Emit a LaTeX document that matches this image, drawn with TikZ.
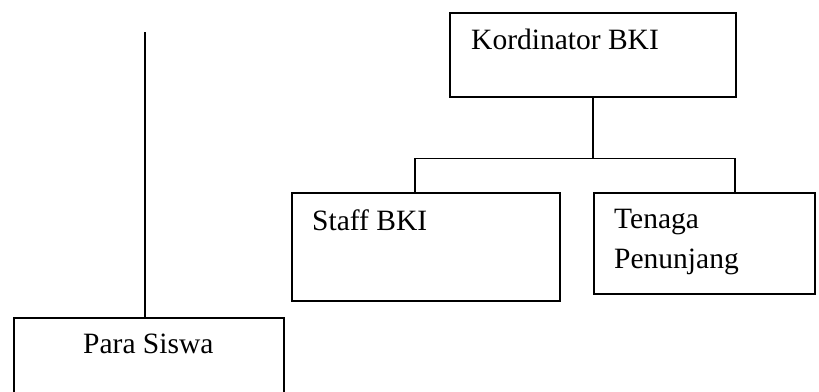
\documentclass[tikz,border=0pt]{standalone}
\usepackage{fontspec}
\setmainfont{Liberation Serif}
\usetikzlibrary{calc}
\tikzset{
  box/.style={draw=black, line width=1.5pt, rectangle, inner sep=0pt, anchor=north west},
  lbl/.style={anchor=base west, inner sep=0pt, font=\fontsize{29.5}{40}\selectfont},
  conn/.style={draw=black, line width=1.5pt}
}
\begin{document}
\begin{tikzpicture}[x=1pt,y=-1pt]
\useasboundingbox (0,0) rectangle (819,391);
% boxes
\node[box, minimum width=286pt, minimum height=84pt] (K) at (449,12) {};
\node[box, minimum width=268pt, minimum height=108pt] (S) at (291,192) {};
\node[box, minimum width=221pt, minimum height=101pt] (T) at (593,192) {};
\node[box, minimum width=270pt, minimum height=90pt] (P) at (13,317) {};
% labels
\node[lbl] (Kt) at (471,49) {Kordinator BKI};
\node[lbl] (St) at (312,230) {Staff BKI};
\node[lbl] (Tt1) at (614,228) {Tenaga};
\node[lbl] (Tt2) at (614,268) {Penunjang};
\node[lbl] (Pt) at (83,353) {Para Siswa};
% connectors
\coordinate (j) at ($(K.south)+(0,61)$);
\coordinate (sx) at ($(S.north west)+(124,0)$);
\coordinate (tx) at ($(T.north west)+(142,0)$);
\coordinate (ptop) at (145,32);
\draw[conn] (K.south) -- (j);
\draw[conn] (sx) |- (j) -| (tx);
\draw[conn] (ptop) -- (ptop |- P.north);
\end{tikzpicture}
\end{document}
